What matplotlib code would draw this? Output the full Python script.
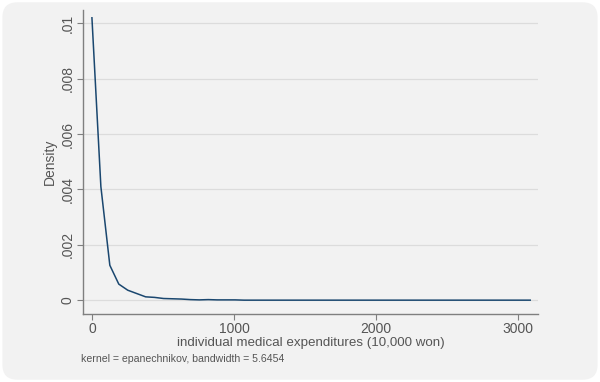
import matplotlib
matplotlib.use('Agg')
import matplotlib.pyplot as plt
from matplotlib.patches import FancyBboxPatch
import numpy as np

# evaluation points (10,000 won) and estimated density
expend = [0, 63, 126, 189, 252, 315, 378, 441, 504, 567, 630, 693, 756, 819,
          882, 945, 1008, 1071, 1500, 2000, 2500, 3085]
density = [0.0102, 0.0041, 0.00126, 0.00058, 0.00036, 0.00024, 0.00012, 0.0001,
           0.00006, 0.00005, 0.00004, 0.00002, 0.00001, 0.00002, 0.00001,
           0.00001, 0.00001, 0.0, 0.0, 0.0, 0.0, 0.0]

xticks = [0, 1000, 2000, 3000]
yticks = [0, 0.002, 0.004, 0.006, 0.008, 0.01]
ylabels = ['0', '.002', '.004', '.006', '.008', '.01']

bg = '#f2f2f2'
txt = '#555555'
plt.rcParams['font.family'] = ['Liberation Sans', 'DejaVu Sans']

fig = plt.figure(figsize=(6, 3.82), dpi=100, facecolor='white')
fig.patches.append(FancyBboxPatch((0.004, 0.006), 0.992, 0.988,
                                  boxstyle='round,pad=0,rounding_size=0.025',
                                  transform=fig.transFigure, facecolor=bg,
                                  edgecolor='none', mutation_aspect=600 / 382,
                                  zorder=-10))

ax = fig.add_axes([0.1383, 0.178, 0.7584, 0.795])
ax.set_facecolor(bg)
ax.plot(expend, density, color='#1a476f', linewidth=1.1, zorder=3)

ax.set_xlim(-63, 3140)
ax.set_ylim(-0.0005, 0.01047)
ax.set_xticks(xticks)
ax.set_yticks(yticks)
ax.set_yticklabels(ylabels, rotation=90, va='center')
ax.grid(axis='y', color='#dcdcdc', linewidth=0.9)
ax.set_axisbelow(True)
for s in ['top', 'right']:
    ax.spines[s].set_visible(False)
for s in ['left', 'bottom']:
    ax.spines[s].set_color('#7f7f7f')
    ax.spines[s].set_linewidth(1.0)
ax.tick_params(colors='#7f7f7f', labelcolor=txt, labelsize=10, length=4)
ax.tick_params(axis='x', pad=1.5)
ax.tick_params(axis='y', pad=2)

ax.set_xlabel('individual medical expenditures (10,000 won)', color=txt, fontsize=9.6, labelpad=1)
ax.set_ylabel('Density', color=txt, fontsize=10, labelpad=3)

fig.text(0.135, 0.052, 'kernel = epanechnikov, bandwidth = 5.6454', color=txt, fontsize=7.6)

fig.savefig('out.png', dpi=100, facecolor='white')
